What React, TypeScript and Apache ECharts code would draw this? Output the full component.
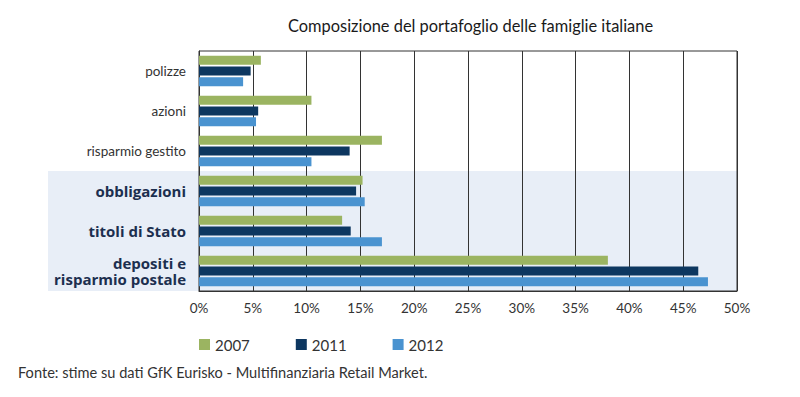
import React, { useEffect, useRef } from "react";
import * as echarts from "echarts";

const categories = [
  "polizze",
  "azioni",
  "risparmio gestito",
  "obbligazioni",
  "titoli di Stato",
  "depositi e\nrisparmio postale",
];
const boldCategories = ["obbligazioni", "titoli di Stato", "depositi e\nrisparmio postale"];
const years = ["2007", "2011", "2012"];
const values2007 = [5.75, 10.45, 17.0, 15.2, 13.3, 38.0];
const values2011 = [4.8, 5.5, 14.0, 14.6, 14.1, 46.4];
const values2012 = [4.1, 5.3, 10.45, 15.4, 17.0, 47.3];
const colors = ["#9bb461", "#0d3760", "#4a93d0"];
const xTicks = { min: 0, max: 50, interval: 5 };

const FONT = "Lato, 'Open Sans', sans-serif";
const BOLD_FONT = "'Open Sans', Lato, sans-serif";

export default function App() {
  const ref = useRef<HTMLDivElement>(null);
  useEffect(() => {
    if (!ref.current) return;
    const chart = echarts.init(ref.current, null, { renderer: "svg" });
    const seriesValues = [values2007, values2011, values2012];
    const yData = categories.map((c) =>
      boldCategories.includes(c)
        ? {
            value: c,
            textStyle: {
              fontSize: 15,
              fontWeight: "bold",
              color: "#1c2f4f",
              fontFamily: BOLD_FONT,
              lineHeight: 16,
            },
          }
        : { value: c }
    );
    chart.setOption({
      animation: false,
      textStyle: { fontFamily: FONT },
      title: [
        {
          text: "Composizione del portafoglio delle famiglie italiane",
          left: 283,
          top: 12,
          textStyle: { fontSize: 16.4, fontWeight: "normal", color: "#1a1a1a", fontFamily: FONT },
        },
        {
          text: "Fonte: stime su dati GfK Eurisko - Multifinanziaria Retail Market.",
          left: 13,
          top: 360,
          textStyle: { fontSize: 14.6, fontWeight: "normal", color: "#333", fontFamily: FONT },
        },
      ],
      graphic: [
        {
          type: "rect",
          z: -10,
          shape: { x: 48, y: 171, width: 689, height: 120 },
          style: { fill: "#e8eef7" },
          silent: true,
        },
      ],
      legend: {
        data: years,
        left: 194,
        top: 332,
        itemWidth: 11,
        itemHeight: 11,
        itemGap: 46,
        icon: "rect",
        textStyle: { fontSize: 15, color: "#333", fontFamily: FONT },
      },
      grid: {
        left: 199,
        right: 63,
        top: 51,
        bottom: 106,
        show: true,
        borderColor: "#333",
        borderWidth: 1,
        backgroundColor: "transparent",
      },
      xAxis: {
        type: "value",
        min: xTicks.min,
        max: xTicks.max,
        interval: xTicks.interval,
        axisLine: { show: true, lineStyle: { color: "#333", width: 1 } },
        axisTick: { show: false },
        splitLine: { show: true, lineStyle: { color: "#333", width: 1 } },
        axisLabel: {
          formatter: "{value}%",
          color: "#333",
          fontSize: 13.5,
          margin: 10,
          fontFamily: FONT,
        },
      },
      yAxis: {
        type: "category",
        inverse: true,
        data: yData,
        axisLine: { show: true, lineStyle: { color: "#333", width: 1 } },
        axisTick: { show: false },
        splitLine: { show: false },
        axisLabel: {
          margin: 13,
          fontFamily: FONT,
          fontSize: 13.5,
          color: "#333",
        },
      },
      series: years.map((y, i) => ({
        name: y,
        type: "bar",
        data: seriesValues[i],
        barWidth: 9,
        barGap: "20%",
        itemStyle: { color: colors[i] },
      })),
    });
    return () => chart.dispose();
  }, []);
  return (
    <div
      ref={ref}
      style={{ position: "absolute", left: 0, top: 0, width: 800, height: 397 }}
    />
  );
}
